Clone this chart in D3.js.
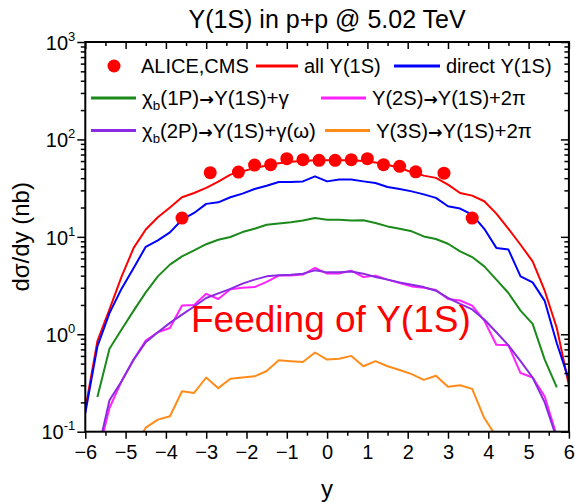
<!DOCTYPE html>
<html>
<head>
<meta charset="utf-8">
<script src="https://cdn.jsdelivr.net/npm/d3@7"></script>
<style>
  body { margin: 0; background: #fff; }
  svg { display: block; }
  text { font-family: Arial, "Liberation Sans", sans-serif; fill: #000; }
</style>
</head>
<body>
<svg id="chart" width="575" height="503"></svg>
<script>
// Rapidity grid of the model curves: -6 ... 6 in steps of 0.3
const rapidity = d3.range(41).map(i => +(-6 + 0.3 * i).toFixed(1));

// dσ/dy (nb) for each feeding channel on the grid above (null = not drawn)
const allY1S = [0.17, 0.85, 1.8, 3.9, 7.7, 11.9, 15.9, 20, 25.5, 28.2, 31.8, 36.9, 43.5, 47, 51, 54, 57, 59, 60, 61,
  61, 61, 61, 60, 58, 55, 51, 46, 42.5, 40.3, 34.4, 28.2, 26.5, 23.2, 17.3, 12.1, 8.3, 5.6, 2.8, 1.16, 0.30];
const directY1S = [0.155, 0.75, 1.65, 2.94, 4.8, 7.9, 9.2, 11.1, 15.0, 17.6, 21.8, 22.6, 25.5, 27.8, 31.0, 33.5, 36.6, 36.6, 37.1, 41.8,
  37.1, 38.7, 38.7, 37.1, 35.7, 32.5, 31.0, 29.3, 27.3, 25.1, 20.6, 19.5, 16.9, 12.1, 7.7, 7.4, 3.93, 3.41, 2.2, 0.81, 0.34];
const chib1P = [null, 0.227, 0.71, 1.12, 1.75, 2.69, 3.93, 5.19, 6.3, 7.27, 8.4, 9.35, 9.97, 11.2, 12.1, 13.3, 13.7, 14.1, 14.7, 15.6,
  15.0, 15.0, 14.7, 14.8, 13.9, 12.8, 12.1, 11.4, 10.1, 9.5, 8.5, 7.1, 6.2, 4.98, 3.64, 2.65, 1.75, 1.28, 0.55, 0.285, null];
const y2S = [null, 0.055, 0.175, 0.33, 0.55, 0.86, 1.05, 1.16, 1.97, 2.0, 2.6, 2.3, 2.9, 3.0, 3.05, 3.45, 4.0, 4.0, 4.1, 4.8,
  4.2, 4.2, 4.5, 3.87, 4.0, 3.64, 3.36, 3.1, 3.0, 2.85, 2.3, 2.22, 1.97, 1.38, 0.78, 0.77, 0.40, 0.36, 0.23, 0.09, null];
const chib2P = [null, 0.06, 0.21, 0.33, 0.55, 0.83, 1.05, 1.31, 1.59, 1.93, 2.36, 2.63, 2.92, 3.31, 3.64, 3.93, 4.03, 4.09, 4.19, 4.53,
  4.32, 4.32, 4.42, 4.19, 3.87, 3.64, 3.41, 3.23, 3.05, 2.8, 2.36, 2.05, 1.8, 1.42, 1.05, 0.77, 0.53, 0.36, 0.2, 0.085, null];
const y3S = [null, null, null, null, 0.07, 0.11, 0.133, 0.144, 0.26, 0.25, 0.36, 0.28, 0.35, 0.36, 0.37, 0.42, 0.54, 0.53, 0.52, 0.65,
  0.55, 0.56, 0.60, 0.47, 0.53, 0.47, 0.43, 0.39, 0.34, 0.375, 0.29, 0.30, 0.275, 0.138, 0.089, null, null, null, null, null, null];

// ALICE and CMS measurements
const dataRapidity = [-3.6, -2.9, -2.2, -1.8, -1.4, -1.0, -0.6, -0.2, 0.2, 0.6, 1.0, 1.4, 1.8, 2.2, 2.9, 3.6];
const dataValue = [15.6, 45.6, 46.2, 54.5, 55, 63.5, 62, 61, 61, 62, 63.5, 55, 53, 46.5, 45, 15.6];

// Axis ticks
const xMajorTicks = d3.range(-6, 6.001, 1);
const xMinorTicks = d3.range(-5.5, 6, 1);
const yMajorTicks = [0.1, 1, 10, 100, 1000];
const yExponents = ["-1", "0", "1", "2", "3"];

const series = [
  { name: "all", values: allY1S, color: "#ff0000" },
  { name: "direct", values: directY1S, color: "#0000ff" },
  { name: "chib1P", values: chib1P, color: "#1b8a1b" },
  { name: "y3S", values: y3S, color: "#ff8c1a" },
  { name: "y2S", values: y2S, color: "#ff22ff" },
  { name: "chib2P", values: chib2P, color: "#8a2be2" }
];

const svg = d3.select("#chart");
const L = 85.3, R = 568.9, T = 42, B = 431.7;

const x = d3.scaleLinear().domain([-6, 6]).range([L, R]);
const y = d3.scaleLog().domain([0.1, 1000]).range([B, T]);

// minor ticks at 2..9 of each decade
const yMinorTicks = [];
for (let e = -1; e < 3; e++) for (let m = 2; m <= 9; m++) yMinorTicks.push(m * Math.pow(10, e));

svg.append("clipPath").attr("id", "plotClip")
  .append("rect").attr("x", L).attr("y", T).attr("width", R - L).attr("height", B - T);

const plot = svg.append("g").attr("clip-path", "url(#plotClip)");

const line = d3.line()
  .defined(d => d[1] != null)
  .x(d => x(d[0]))
  .y(d => y(d[1]));

series.forEach(s => {
  plot.append("path")
    .datum(rapidity.map((r, i) => [r, s.values[i]]))
    .attr("fill", "none")
    .attr("stroke", s.color)
    .attr("stroke-width", 2)
    .attr("stroke-linejoin", "round")
    .attr("d", line);
});

plot.selectAll("circle.data")
  .data(dataRapidity.map((r, i) => [r, dataValue[i]]))
  .join("circle")
  .attr("class", "data")
  .attr("cx", d => x(d[0]))
  .attr("cy", d => y(d[1]))
  .attr("r", 6.5)
  .attr("fill", "#ff0000");

// Axes
function styleAxis(g) {
  g.select(".domain").remove();
  g.selectAll("line").attr("stroke", "#000").attr("stroke-width", 1.5);
}

svg.append("g").attr("transform", `translate(0,${B})`)
  .call(d3.axisBottom(x).tickValues(xMajorTicks).tickSize(7).tickPadding(6).tickFormat(d3.format("d")))
  .call(styleAxis)
  .call(g => g.selectAll("text").attr("font-size", 20).attr("font-family", "Arial, 'Liberation Sans', sans-serif"));
svg.append("g").attr("transform", `translate(0,${B})`)
  .call(d3.axisBottom(x).tickValues(xMinorTicks).tickSize(4).tickFormat(""))
  .call(styleAxis);

svg.append("g").attr("transform", `translate(0,${T})`)
  .call(d3.axisBottom(x).tickValues(xMajorTicks).tickSize(7).tickFormat(""))
  .call(styleAxis);
svg.append("g").attr("transform", `translate(0,${T})`)
  .call(d3.axisBottom(x).tickValues(xMinorTicks).tickSize(4).tickFormat(""))
  .call(styleAxis);

const leftAxis = svg.append("g").attr("transform", `translate(${L},0)`)
  .call(d3.axisLeft(y).tickValues(yMajorTicks).tickSize(8).tickPadding(4).tickFormat(""))
  .call(styleAxis);
leftAxis.selectAll(".tick text").each(function(d, i) {
  const t = d3.select(this)
    .attr("font-size", 20)
    .attr("font-family", "Arial, 'Liberation Sans', sans-serif")
    .attr("text-anchor", "end")
    .attr("dy", "0.36em")
    .attr("x", -10);
  t.append("tspan").text("10");
  t.append("tspan").attr("font-size", 13).attr("dy", -9).text(yExponents[i]);
});
svg.append("g").attr("transform", `translate(${L},0)`)
  .call(d3.axisLeft(y).tickValues(yMinorTicks).tickSize(4.5).tickFormat(""))
  .call(styleAxis);

svg.append("g").attr("transform", `translate(${R},0)`)
  .call(d3.axisRight(y).tickValues(yMajorTicks).tickSize(-8).tickFormat(""))
  .call(styleAxis);
svg.append("g").attr("transform", `translate(${R},0)`)
  .call(d3.axisRight(y).tickValues(yMinorTicks).tickSize(-4.5).tickFormat(""))
  .call(styleAxis);

// Frame
svg.append("rect")
  .attr("x", L).attr("y", T).attr("width", R - L).attr("height", B - T)
  .attr("fill", "none").attr("stroke", "#000").attr("stroke-width", 2);

// Titles
svg.append("text").attr("x", (L + R) / 2).attr("y", 28).attr("text-anchor", "middle")
  .attr("font-size", 25).text("Υ(1S) in p+p @ 5.02 TeV");
svg.append("text").attr("x", (L + R) / 2).attr("y", 497).attr("text-anchor", "middle")
  .attr("font-size", 24).text("y");
svg.append("text").attr("transform", `translate(29,${(T + B) / 2}) rotate(-90)`)
  .attr("text-anchor", "middle").attr("font-size", 24).text("dσ/dy (nb)");

svg.append("text").attr("x", 191).attr("y", 331.5).attr("font-size", 37)
  .style("fill", "#ff0000").text("Feeding of Υ(1S)");

// Legend
const legendFont = 20;
const lg = svg.append("g");
lg.append("circle").attr("cx", 114).attr("cy", 66).attr("r", 6.5).attr("fill", "#ff0000");
function legendItem(x1, x2, yy, color) {
  lg.append("line").attr("x1", x1).attr("x2", x2).attr("y1", yy).attr("y2", yy)
    .attr("stroke", color).attr("stroke-width", 3);
  return lg.append("text").attr("x", x2 + 6).attr("y", yy).attr("dy", "0.36em").attr("font-size", legendFont);
}
// decay label: optional χ_b prefix, then "parent → Υ(1S) + products",
// fitted horizontally to the given width
function decayLabel(t, parent, products, width) {
  if (parent.startsWith("χ")) {
    t.append("tspan").text("χ");
    t.append("tspan").attr("font-size", 13).attr("dy", 5).text("b");
    t.append("tspan").attr("dy", -5).text(parent.slice(1));
  } else {
    t.append("tspan").text(parent);
  }
  t.append("tspan").attr("font-family", "'DejaVu Sans', sans-serif").attr("font-size", 17)
    .attr("font-weight", "bold").text("→");
  t.append("tspan").text("Υ(1S)+" + products);
  const x0 = +t.attr("x");
  const w = t.node().getComputedTextLength();
  const k = width / w;
  t.attr("transform", `translate(${x0},0) scale(${k},1) translate(${-x0},0)`);
}
lg.append("text").attr("x", 141).attr("y", 66).attr("dy", "0.36em").attr("font-size", legendFont).text("ALICE,CMS");
legendItem(256, 298, 66, "#ff0000").text("all Υ(1S)");
legendItem(394, 440, 66, "#0000ff").text("direct Υ(1S)");

decayLabel(legendItem(91, 136, 98, "#1b8a1b"), "χ(1P)", "γ", 147);
decayLabel(legendItem(321, 366, 98, "#ff22ff"), "Υ(2S)", "2π", 154);
decayLabel(legendItem(91, 136, 130.5, "#8a2be2"), "χ(2P)", "γ(ω)", 174);
decayLabel(legendItem(325, 370, 130.5, "#ff8c1a"), "Υ(3S)", "2π", 156);
</script>
</body>
</html>
